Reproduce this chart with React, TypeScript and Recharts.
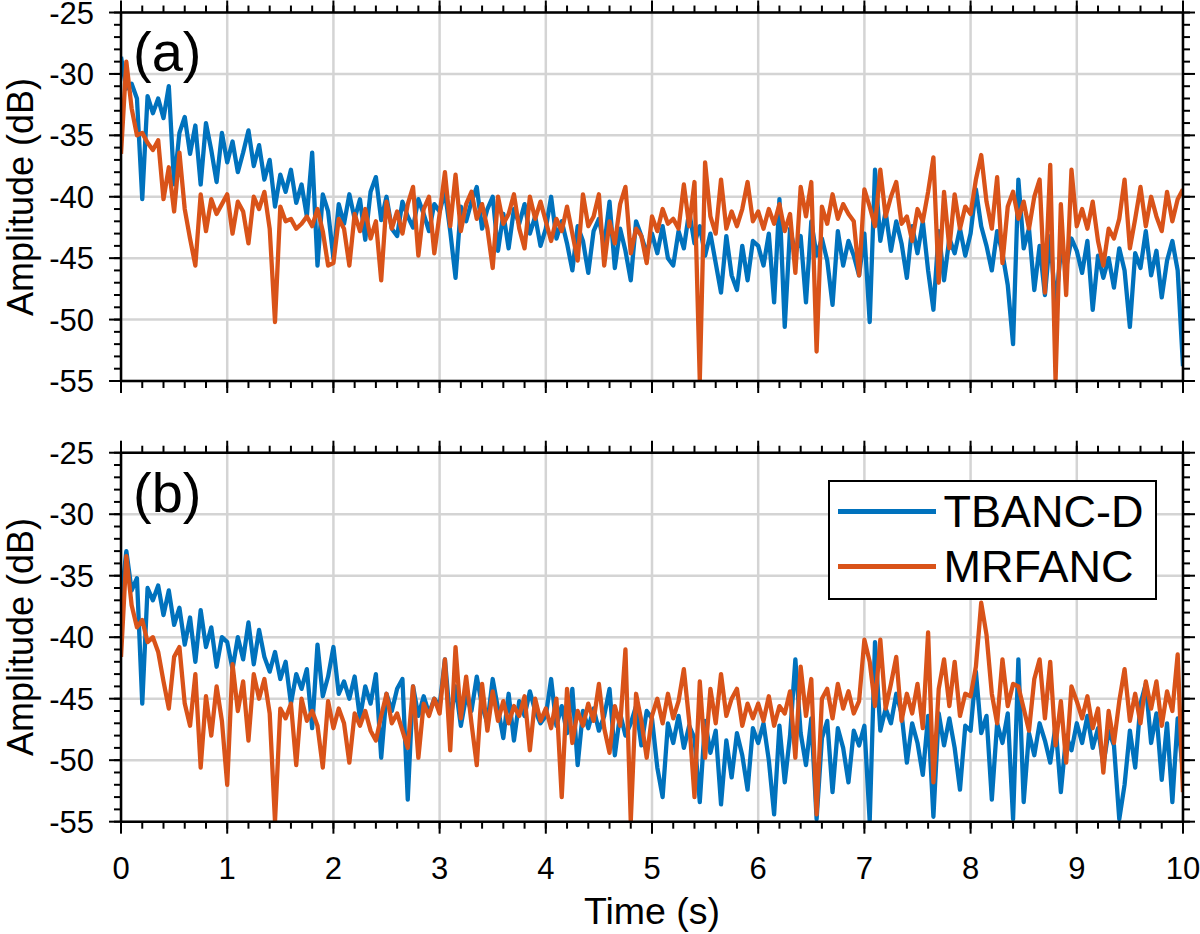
import { LineChart, Line, XAxis, YAxis, CartesianGrid, Legend } from "recharts";

// sampling step of the time axis (s)
const STEP = 0.05;

const X_TICKS = [0, 1, 2, 3, 4, 5, 6, 7, 8, 9, 10];
const Y_TICKS = [-55, -50, -45, -40, -35, -30, -25];
const SERIES_NAMES = ["TBANC-D", "MRFANC"];
const PANEL_LABELS = ["(a)", "(b)"];

// panel (a)
const TOP_TBANC = [
  -28.6, -31.2, -30.8, -32.0, -40.2, -31.8, -33.2, -32.0, -33.6, -31.0, -39.0, -34.8, -33.5, -36.5, -34.2, -39.0, -34.0, -36.2, -38.8, -34.8,
  -37.2, -35.5, -38.0, -36.4, -34.6, -37.5, -35.8, -38.6, -37.0, -40.8, -38.2, -39.6, -37.8, -40.5, -39.0, -41.6, -36.4, -45.6, -39.8, -41.2,
  -45.0, -40.6, -42.2, -39.8, -41.8, -40.2, -43.5, -39.6, -38.4, -41.9, -40.0, -42.6, -43.2, -40.4, -41.6, -42.5, -40.2, -41.4, -42.8, -40.6,
  -41.2, -39.6, -42.8, -46.6, -40.8, -42.0, -40.4, -39.2, -42.6, -41.0, -40.0, -44.4, -41.4, -44.2, -41.0, -42.2, -40.6, -43.0, -41.6, -44.0,
  -42.6, -40.0, -43.4, -42.0, -43.8, -46.0, -42.4, -43.6, -46.2, -42.8, -41.8, -44.0, -40.4, -45.8, -42.6, -44.4, -46.8, -42.0, -43.2, -44.6,
  -43.0, -44.6, -42.4, -45.0, -45.6, -42.8, -44.2, -41.2, -43.8, -42.4, -44.8, -43.0, -45.4, -47.8, -43.2, -46.4, -47.6, -44.0, -46.8, -43.6,
  -44.0, -45.6, -43.0, -48.6, -40.2, -50.6, -42.6, -44.6, -43.2, -48.6, -42.0, -44.8, -43.4, -45.2, -48.8, -42.8, -45.6, -43.6, -44.8, -46.4,
  -43.0, -50.2, -37.8, -43.6, -41.2, -44.4, -42.0, -43.8, -46.6, -42.4, -44.6, -42.0, -46.0, -49.2, -42.8, -46.8, -43.4, -44.6, -42.6, -44.8,
  -43.0, -39.4, -42.4, -44.0, -46.0, -42.8, -44.6, -47.2, -52.0, -38.6, -44.2, -42.6, -47.6, -44.0, -48.0, -43.2, -49.0, -44.4, -45.8, -43.4,
  -44.4, -46.2, -43.6, -49.2, -44.8, -46.6, -45.0, -47.4, -44.2, -46.0, -50.6, -44.6, -45.8, -42.8, -46.4, -44.4, -48.2, -45.2, -43.6, -46.0,
  -53.8,
];
const TOP_MRFANC = [
  -36.5, -29.0, -32.8, -35.0, -34.8, -35.6, -36.2, -35.4, -40.2, -37.6, -41.2, -36.4, -41.0, -43.4, -45.6, -39.8, -42.8, -40.2, -41.4, -40.6,
  -39.8, -43.0, -40.4, -41.2, -43.8, -40.0, -41.0, -39.6, -42.6, -50.2, -40.8, -42.0, -41.8, -42.6, -42.2, -41.6, -42.4, -41.0, -42.8, -45.6,
  -45.4, -41.8, -42.6, -45.6, -41.4, -42.8, -41.0, -43.4, -42.0, -46.8, -40.4, -42.6, -41.2, -43.0, -40.6, -39.2, -44.8, -41.0, -40.0, -44.6,
  -41.4, -38.0, -42.4, -38.2, -42.8, -40.6, -39.6, -41.8, -40.6, -42.6, -45.8, -40.0, -42.2, -41.4, -39.8, -42.6, -44.2, -40.0, -41.8, -40.4,
  -42.0, -43.6, -41.8, -42.8, -40.8, -43.0, -45.2, -39.8, -42.4, -41.6, -39.8, -45.6, -42.0, -43.8, -40.6, -39.2, -44.6, -42.6, -43.2, -45.4,
  -41.6, -42.8, -41.0, -42.2, -41.8, -42.6, -39.0, -42.4, -38.8, -55.0, -37.2, -41.6, -43.0, -38.6, -42.6, -41.2, -42.4, -41.0, -38.8, -42.0,
  -41.2, -42.6, -41.0, -42.2, -40.6, -42.8, -41.4, -46.2, -39.2, -41.6, -38.8, -52.6, -40.8, -42.2, -39.8, -41.8, -40.6, -41.4, -42.0, -46.4,
  -39.4, -40.8, -42.4, -37.8, -41.6, -40.0, -38.8, -42.2, -41.6, -43.6, -41.0, -42.0, -39.6, -36.8, -47.0, -39.6, -44.2, -39.8, -42.6, -40.8,
  -41.4, -38.6, -36.6, -40.4, -42.6, -38.4, -45.4, -40.8, -39.6, -41.8, -40.4, -42.6, -40.0, -38.6, -47.8, -37.4, -55.0, -40.6, -48.0, -37.8,
  -42.4, -41.0, -42.6, -40.4, -43.6, -45.6, -42.6, -43.4, -41.8, -38.6, -44.2, -41.8, -39.2, -42.4, -40.0, -41.6, -42.8, -39.6, -42.0, -40.2,
  -39.4,
];

// panel (b)
const BOT_TBANC = [
  -37.0, -33.0, -36.2, -35.2, -45.4, -36.0, -37.0, -35.8, -38.2, -36.2, -39.0, -37.6, -40.6, -38.4, -42.0, -37.8, -40.8, -39.2, -42.4, -40.0,
  -40.4, -42.6, -40.0, -41.8, -38.8, -42.2, -39.4, -41.6, -42.8, -41.2, -43.4, -42.0, -45.4, -43.0, -44.2, -42.6, -47.4, -40.6, -44.8, -43.2,
  -40.8, -44.6, -43.6, -45.0, -43.2, -46.6, -44.0, -45.4, -43.0, -49.8, -44.6, -46.0, -44.2, -43.4, -53.2, -44.0, -46.4, -44.8, -46.2, -45.0,
  -45.6, -41.8, -46.8, -44.0, -47.2, -44.8, -46.0, -43.2, -45.6, -47.0, -43.4, -45.8, -48.2, -44.6, -48.4, -45.2, -46.4, -44.4, -46.0, -47.0,
  -46.4, -43.4, -47.2, -45.6, -47.8, -44.2, -50.4, -46.0, -47.4, -45.8, -47.6, -46.4, -44.2, -49.6, -46.2, -48.0, -47.0, -45.6, -48.8, -46.0,
  -46.6, -50.6, -53.0, -47.0, -48.6, -46.4, -49.0, -47.2, -48.2, -53.4, -46.8, -49.4, -47.6, -53.6, -48.4, -51.4, -47.8, -49.6, -52.4, -47.4,
  -48.6, -47.0, -50.0, -54.4, -47.2, -51.8, -48.0, -41.8, -47.8, -50.4, -46.6, -54.8, -48.2, -46.8, -52.6, -47.4, -49.0, -51.8, -47.6, -48.8,
  -47.2, -55.0, -40.4, -47.6, -45.8, -47.0, -44.6, -46.2, -50.2, -47.0, -48.6, -51.2, -46.4, -54.6, -46.2, -48.8, -46.6, -49.0, -52.4, -47.2,
  -47.6, -42.8, -47.8, -46.4, -53.2, -47.0, -48.6, -46.2, -54.8, -41.8, -53.4, -47.8, -49.6, -47.0, -48.4, -50.2, -47.2, -52.6, -48.0, -49.2,
  -47.0, -48.6, -46.4, -49.0, -47.4, -50.4, -47.6, -48.8, -54.8, -52.0, -47.6, -50.6, -45.4, -43.8, -48.6, -46.2, -51.6, -47.0, -53.4, -46.6,
  -51.0,
];
const BOT_MRFANC = [
  -41.6, -33.4, -37.4, -39.2, -38.6, -40.4, -40.0, -41.2, -43.6, -45.8, -41.6, -40.8, -45.4, -47.2, -43.0, -50.6, -44.8, -48.0, -44.0, -46.8,
  -52.0, -42.2, -46.0, -43.6, -48.4, -43.0, -45.0, -43.4, -46.2, -55.0, -45.8, -46.6, -45.4, -50.4, -45.0, -46.8, -46.0, -47.2, -50.6, -45.2,
  -47.4, -45.8, -47.0, -50.2, -46.2, -47.2, -46.0, -47.6, -48.4, -46.4, -44.6, -47.0, -46.2, -47.6, -49.0, -44.0, -49.8, -45.4, -46.4, -45.0,
  -46.2, -41.8, -49.2, -40.8, -46.6, -43.2, -47.0, -50.4, -43.8, -47.6, -44.4, -46.8, -45.2, -47.0, -45.6, -46.4, -44.8, -49.2, -45.0, -46.8,
  -45.8, -47.4, -45.0, -53.0, -44.2, -48.6, -46.0, -47.2, -45.4, -46.8, -43.8, -47.4, -49.4, -45.6, -47.2, -41.0, -55.0, -44.6, -46.8, -49.8,
  -46.4, -45.0, -47.0, -44.6, -46.6, -45.2, -42.6, -46.8, -53.0, -43.6, -49.8, -44.2, -47.0, -43.0, -46.4, -45.0, -44.2, -47.2, -45.4, -46.6,
  -45.4, -46.8, -44.8, -47.2, -45.6, -46.2, -44.4, -49.8, -42.4, -46.4, -43.4, -54.4, -45.0, -44.2, -46.6, -43.8, -45.8, -44.4, -46.2, -45.2,
  -40.2, -42.0, -45.6, -40.2, -45.8, -43.8, -41.6, -46.8, -44.6, -46.2, -43.8, -47.4, -39.6, -51.8, -44.2, -41.8, -45.6, -42.0, -46.4, -44.6,
  -44.8, -42.4, -37.2, -39.8, -44.6, -47.0, -41.8, -45.6, -43.8, -44.0, -45.8, -47.6, -43.4, -41.8, -46.6, -42.0, -48.8, -45.2, -50.2, -44.0,
  -45.2, -46.6, -44.8, -47.4, -45.8, -51.0, -46.0, -48.6, -45.2, -42.6, -46.8, -44.6, -47.0, -43.6, -45.8, -43.6, -47.2, -44.4, -46.0, -41.4,
  -52.6,
];

const BLUE = "#0072BD";
const ORANGE = "#D95319";
const FONT = '"Liberation Sans", Arial, Helvetica, sans-serif';

const buildRows = (blue: number[], orange: number[]) =>
  blue.map((b, i) => ({ t: Math.round(i * STEP * 100) / 100, b, o: orange[i] }));

const minorTicks = (from: number, to: number, step: number) => {
  const out: number[] = [];
  for (let v = from; v <= to + 1e-9; v += step) out.push(Math.round(v * 100) / 100);
  return out;
};

const X_MINOR = minorTicks(0, 10, 0.2);
const Y_MINOR = minorTicks(-55, -25, 1);

const AXIS_LINE = { stroke: "#000", strokeWidth: 2.5 };
const TICK_LINE = { stroke: "#000", strokeWidth: 2 };
const TICK_FONT = { fontSize: 31, fill: "#000" };
const THIN = 0.01;

// tick marks only, no label (tick={false} would drop the marks too)
const NoLabel = () => <g />;

function LegendBox({ payload }: any) {
  const items = [...(payload || [])].sort(
    (a: any, b: any) => SERIES_NAMES.indexOf(a.value) - SERIES_NAMES.indexOf(b.value)
  );
  return (
    <div
      style={{
        boxSizing: "border-box",
        width: 329,
        height: 120,
        border: "2.5px solid #000",
        background: "#fff",
        paddingTop: 2,
        fontFamily: FONT,
      }}
    >
      {items.map((entry: any) => (
        <div key={entry.value} style={{ display: "flex", alignItems: "center", height: 55 }}>
          <div style={{ width: 98, height: 5, marginLeft: 7.5, background: entry.color }} />
          <div style={{ marginLeft: 8, fontSize: 45, lineHeight: "45px", color: "#000" }}>{entry.value}</div>
        </div>
      ))}
    </div>
  );
}

interface PanelProps {
  data: { t: number; b: number; o: number }[];
  height: number;
  top: number;
  bottom: number;
  showTime: boolean;
  withLegend: boolean;
}

function Panel({ data, height, top, bottom, showTime, withLegend }: PanelProps) {
  return (
    <LineChart width={1200} height={height} data={data} margin={{ top, right: 17, bottom, left: 121 }}>
      <CartesianGrid stroke="#d4d4d4" strokeWidth={2.5} />
      <XAxis
        dataKey="t"
        type="number"
        domain={[0, 10]}
        allowDataOverflow
        ticks={X_TICKS}
        interval={0}
        height={THIN}
        stroke="#000"
        axisLine={AXIS_LINE}
        tickLine={TICK_LINE}
        tickSize={12}
        tickMargin={23}
        tick={showTime ? TICK_FONT : NoLabel}
      />
      <XAxis xAxisId="xminB" dataKey="t" type="number" domain={[0, 10]} allowDataOverflow ticks={X_MINOR} interval={0}
        height={THIN} axisLine={false} tickLine={TICK_LINE} tickSize={7} tick={NoLabel} />
      <XAxis xAxisId="xtop" orientation="top" dataKey="t" type="number" domain={[0, 10]} allowDataOverflow ticks={X_TICKS}
        interval={0} height={THIN} axisLine={AXIS_LINE} tickLine={TICK_LINE} tickSize={12} tick={NoLabel} />
      <XAxis xAxisId="xminT" orientation="top" dataKey="t" type="number" domain={[0, 10]} allowDataOverflow ticks={X_MINOR}
        interval={0} height={THIN} axisLine={false} tickLine={TICK_LINE} tickSize={7} tick={NoLabel} />
      <YAxis
        domain={[-55, -25]}
        allowDataOverflow
        ticks={Y_TICKS}
        interval={0}
        width={THIN}
        stroke="#000"
        axisLine={AXIS_LINE}
        tickLine={TICK_LINE}
        tickSize={12}
        tickMargin={15}
        tick={TICK_FONT}
      />
      <YAxis yAxisId="yminL" domain={[-55, -25]} allowDataOverflow ticks={Y_MINOR} interval={0} width={THIN}
        axisLine={false} tickLine={TICK_LINE} tickSize={7} tick={NoLabel} />
      <YAxis yAxisId="yR" orientation="right" domain={[-55, -25]} allowDataOverflow ticks={Y_TICKS} interval={0}
        width={THIN} axisLine={AXIS_LINE} tickLine={TICK_LINE} tickSize={12} tick={NoLabel} />
      <YAxis yAxisId="yminR" orientation="right" domain={[-55, -25]} allowDataOverflow ticks={Y_MINOR} interval={0}
        width={THIN} axisLine={false} tickLine={TICK_LINE} tickSize={7} tick={NoLabel} />
      <Line type="linear" dataKey="b" name={SERIES_NAMES[0]} stroke={BLUE} strokeWidth={4.3} strokeLinejoin="round" dot={false} isAnimationActive={false} />
      <Line type="linear" dataKey="o" name={SERIES_NAMES[1]} stroke={ORANGE} strokeWidth={4.3} strokeLinejoin="round" dot={false} isAnimationActive={false} />
      {withLegend && (
        <Legend
          layout="vertical"
          align="center"
          verticalAlign="middle"
          wrapperStyle={{ position: "absolute", left: 828, top: 50, width: 329, height: 120 }}
          content={LegendBox}
        />
      )}
    </LineChart>
  );
}

export default function App() {
  const topRows = buildRows(TOP_TBANC, TOP_MRFANC);
  const botRows = buildRows(BOT_TBANC, BOT_MRFANC);
  return (
    <div style={{ position: "absolute", left: 0, top: 0, width: 1200, height: 934, background: "#fff", fontFamily: FONT }}>
      <div style={{ position: "absolute", left: 0, top: 0 }}>
        <Panel data={topRows} height={430} top={12.5} bottom={49} showTime={false} withLegend={false} />
      </div>
      <div style={{ position: "absolute", left: 0, top: 430 }}>
        <Panel data={botRows} height={504} top={22.7} bottom={112.3} showTime withLegend />
      </div>
      <svg width={1200} height={934} style={{ position: "absolute", left: 0, top: 0, pointerEvents: "none" }}>
        <text x={133} y={71} fontSize={56} fill="#000">{PANEL_LABELS[0]}</text>
        <text x={133} y={512} fontSize={56} fill="#000">{PANEL_LABELS[1]}</text>
        <text x={33} y={197} fontSize={36} fill="#000" textAnchor="middle" transform="rotate(-90 33 197)">Amplitude (dB)</text>
        <text x={33} y={637} fontSize={36} fill="#000" textAnchor="middle" transform="rotate(-90 33 637)">Amplitude (dB)</text>
        <text x={652} y={924} fontSize={37.5} fill="#000" textAnchor="middle">Time (s)</text>
      </svg>
    </div>
  );
}
